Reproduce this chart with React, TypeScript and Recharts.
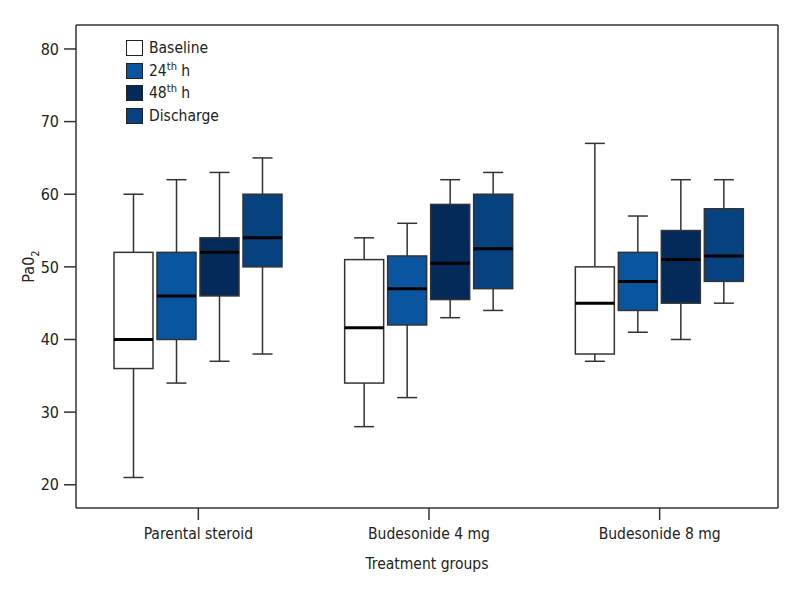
import React from 'react';
import { ComposedChart, Bar, XAxis, YAxis, Legend } from 'recharts';

const categories = ['Parental steroid', 'Budesonide 4 mg', 'Budesonide 8 mg'];
// each entry: [min, q1, median, q3, max]
const baselineStats = [[21, 36, 40, 52, 60], [28, 34, 41.6, 51, 54], [37, 38, 45, 50, 67]];
const h24Stats = [[34, 40, 46, 52, 62], [32, 42, 47, 51.5, 56], [41, 44, 48, 52, 57]];
const h48Stats = [[37, 46, 52, 54, 63], [43, 45.5, 50.5, 58.6, 62], [40, 45, 51, 55, 62]];
const dischargeStats = [[38, 50, 54, 60, 65], [44, 47, 52.5, 60, 63], [45, 48, 51.5, 58, 62]];
const yTicks = [20, 30, 40, 50, 60, 70, 80];

const FONT = "'DejaVu Sans Condensed', 'Liberation Sans Narrow', sans-serif";

const series = [
  { key: 'baseline', stats: baselineStats, fill: '#ffffff', label: 'Baseline', sup: '' },
  { key: 'h24', stats: h24Stats, fill: '#0a559f', label: '24', sup: 'th', rest: ' h' },
  { key: 'h48', stats: h48Stats, fill: '#042a5a', label: '48', sup: 'th', rest: ' h' },
  { key: 'discharge', stats: dischargeStats, fill: '#05427f', label: 'Discharge', sup: '' },
];

const data = categories.map((c, i) => {
  const row: any = { group: c };
  series.forEach((s) => {
    row[s.key] = s.stats[i];
  });
  return row;
});

const BoxShape = (props: any) => {
  const { x, y, width, height, payload, seriesKey, fill } = props;
  const st: number[] = payload[seriesKey];
  if (!st) return null;
  const [mn, q1, med, q3, mx] = st;
  const toY = (v: number) => y + ((mx - v) / (mx - mn)) * height;
  const cx = x + width / 2;
  const capHalf = 10;
  const stroke = '#333';
  return (
    <g>
      <line x1={cx} x2={cx} y1={toY(mx)} y2={toY(q3)} stroke={stroke} strokeWidth={1.5} />
      <line x1={cx} x2={cx} y1={toY(q1)} y2={toY(mn)} stroke={stroke} strokeWidth={1.5} />
      <line x1={cx - capHalf} x2={cx + capHalf} y1={toY(mx)} y2={toY(mx)} stroke={stroke} strokeWidth={1.5} />
      <line x1={cx - capHalf} x2={cx + capHalf} y1={toY(mn)} y2={toY(mn)} stroke={stroke} strokeWidth={1.5} />
      <rect x={x} y={toY(q3)} width={width} height={toY(q1) - toY(q3)} fill={fill} stroke={stroke} strokeWidth={1.5} />
      <line x1={x} x2={x + width} y1={toY(med)} y2={toY(med)} stroke="#000" strokeWidth={3} />
    </g>
  );
};

const LegendContent = () => (
  <div style={{ fontFamily: FONT, fontSize: 15.5, color: '#222' }}>
    {series.map((s) => (
      <div key={s.key} style={{ display: 'flex', alignItems: 'center', height: 22.5 }}>
        <span
          style={{
            display: 'inline-block',
            width: 15,
            height: 14,
            background: s.fill,
            border: '1px solid #222',
            marginRight: 6,
          }}
        />
        <span>
          {s.label}
          {s.sup ? <sup style={{ fontSize: 11, verticalAlign: 'super', lineHeight: 0 }}>{s.sup}</sup> : null}
          {s.rest || ''}
        </span>
      </div>
    ))}
  </div>
);

const YLabel = (props: any) => {
  const vb = props.viewBox || { x: 0, y: 0, width: 76, height: 483 };
  const cx = vb.x + 34;
  const cy = vb.y + vb.height / 2;
  return (
    <text
      x={cx}
      y={cy}
      transform={`rotate(-90, ${cx}, ${cy})`}
      textAnchor="middle"
      fontFamily={FONT}
      fontSize={16}
      fill="#222"
    >
      Pa0
      <tspan fontSize={11} dy={5}>2</tspan>
    </text>
  );
};

export default function App() {
  return (
    <div style={{ position: 'absolute', left: 0, top: 0, width: 800, height: 600, background: '#fff' }}>
      <ComposedChart
        width={800}
        height={600}
        data={data}
        margin={{ top: 24, right: 21, bottom: 0, left: 0 }}
        barSize={39}
        barGap={4}
      >
        <XAxis
          dataKey="group"
          height={92}
          padding={{ left: 7, right: 3 }}
          tickSize={12}
          tickMargin={8}
          stroke="#333"
          strokeWidth={1.5}
          tick={{ fill: '#222', fontFamily: FONT, fontSize: 15.5 }}
          label={{ value: 'Treatment groups', position: 'insideBottom', offset: 31, fill: '#222', fontFamily: FONT, fontSize: 15.5 }}
        />
        <XAxis
          xAxisId="top"
          orientation="top"
          dataKey="group"
          height={1}
          tick={false}
          tickLine={false}
          stroke="#333"
          strokeWidth={1.5}
        />
        <YAxis
          type="number"
          domain={[16.8, 83.3]}
          ticks={yTicks}
          allowDataOverflow
          width={76}
          tickSize={12}
          tickMargin={5}
          stroke="#333"
          strokeWidth={1.5}
          tick={{ fill: '#222', fontFamily: FONT, fontSize: 16 }}
          label={<YLabel />}
        />
        <YAxis
          yAxisId="right"
          orientation="right"
          width={1}
          tick={false}
          tickLine={false}
          stroke="#333"
          strokeWidth={1.5}
          domain={[16.8, 83.3]}
        />
        <Legend
          layout="vertical"
          align="center"
          verticalAlign="middle"
          content={<LegendContent />}
          wrapperStyle={{ left: 126, top: 37, width: 'auto', height: 'auto' }}
        />
        {series.map((s) => (
          <Bar
            key={s.key}
            dataKey={(d: any) => [d[s.key][0], d[s.key][4]]}
            name={s.key}
            fill={s.fill}
            isAnimationActive={false}
            shape={(p: any) => <BoxShape {...p} seriesKey={s.key} fill={s.fill} />}
          />
        ))}
      </ComposedChart>
    </div>
  );
}
